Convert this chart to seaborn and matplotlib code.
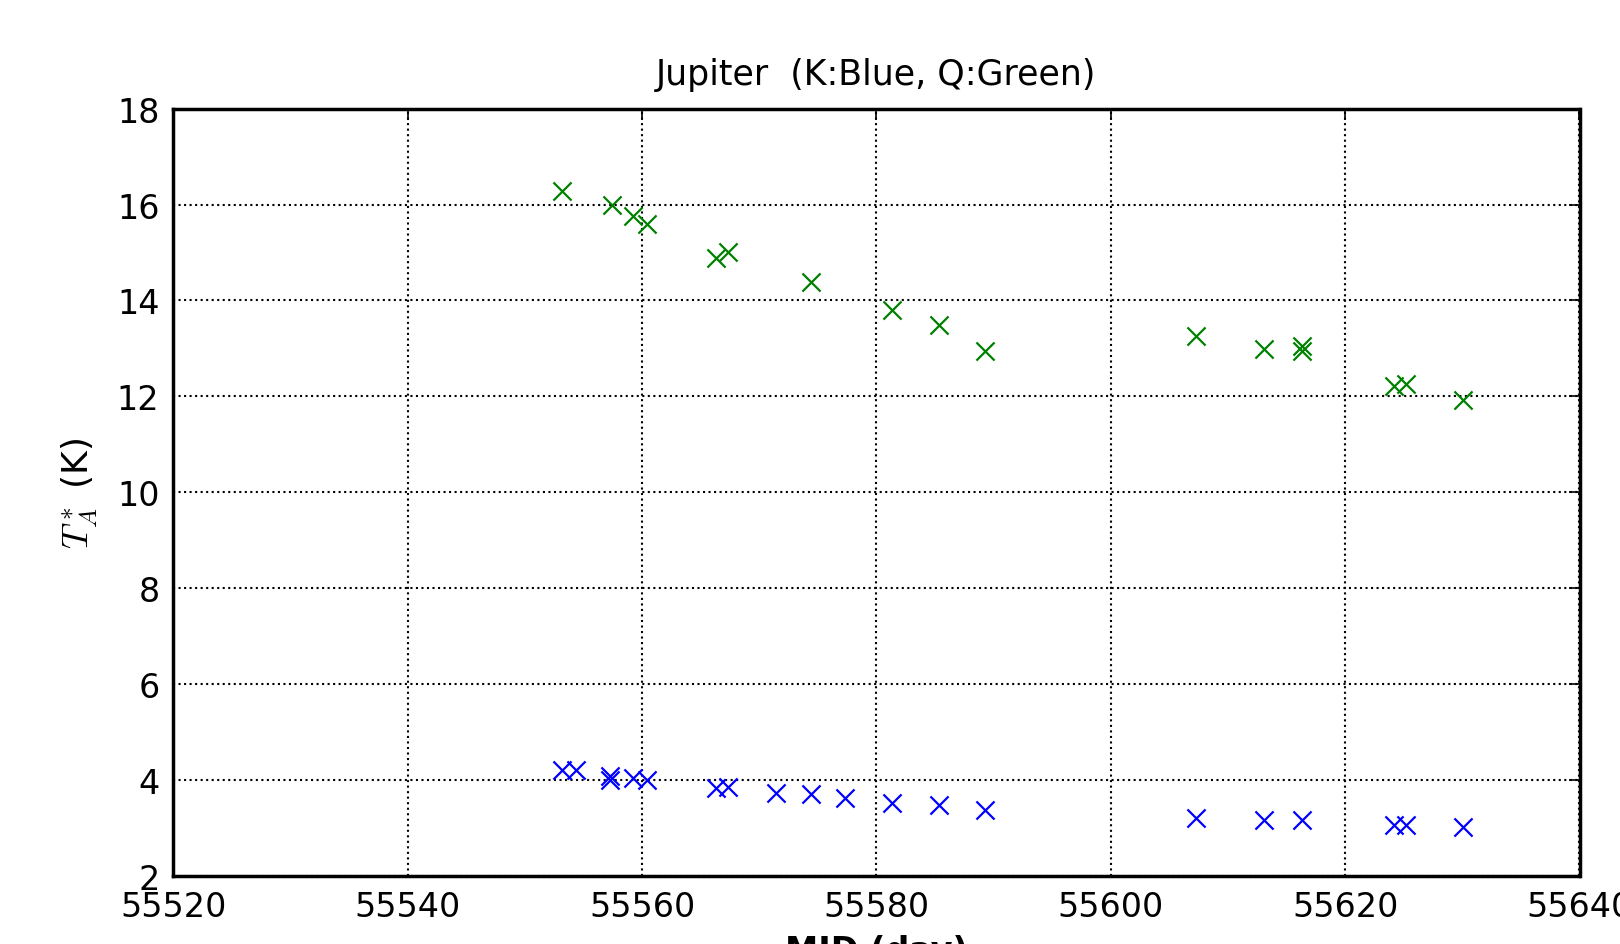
import pandas as pd
import matplotlib
matplotlib.use("Agg")
import matplotlib.pyplot as plt
import seaborn as sns

# Jupiter antenna temperature vs MJD
q_mjd = [55553.2, 55557.4, 55559.2, 55560.4, 55566.3, 55567.3, 55574.4, 55581.3,
         55585.3, 55589.3, 55607.3, 55613.1, 55616.3, 55616.3, 55624.2, 55625.2, 55630.1]
q_ta = [16.28, 15.98, 15.76, 15.59, 14.88, 15.01, 14.38, 13.80,
        13.48, 12.94, 13.26, 12.98, 13.04, 12.95, 12.21, 12.25, 11.93]

k_mjd = [55553.2, 55554.4, 55557.3, 55557.3, 55559.2, 55560.4, 55566.3, 55567.3,
         55571.4, 55574.4, 55577.3, 55581.3, 55585.3, 55589.3, 55607.3, 55613.1,
         55616.3, 55624.2, 55625.2, 55630.1]
k_ta = [4.20, 4.20, 4.09, 4.00, 4.05, 4.00, 3.83, 3.85,
        3.74, 3.70, 3.62, 3.53, 3.49, 3.38, 3.21, 3.16,
        3.16, 3.06, 3.06, 3.03]

df_k = pd.DataFrame({"mjd": k_mjd, "ta": k_ta})
df_q = pd.DataFrame({"mjd": q_mjd, "ta": q_ta})

sns.set_style("white")
plt.rcParams["font.family"] = ["DejaVu Sans"]
plt.rcParams["mathtext.fontset"] = "cm"
plt.rcParams["text.color"] = "black"
plt.rcParams["axes.labelcolor"] = "black"
plt.rcParams["xtick.color"] = "black"
plt.rcParams["ytick.color"] = "black"

fig = plt.figure(figsize=(16.2, 9.45), dpi=100)
ax = fig.add_axes([0.107, 0.072, 0.868, 0.812])

sns.scatterplot(data=df_k, x="mjd", y="ta", marker="x", color="blue",
                s=170, linewidth=1.6, ax=ax, zorder=3)
sns.scatterplot(data=df_q, x="mjd", y="ta", marker="x", color="green",
                s=170, linewidth=1.6, ax=ax, zorder=3)

ax.set_xlim(55520, 55640)
ax.set_ylim(2, 18)
ax.set_xticks(range(55520, 55641, 20))
ax.set_yticks(range(2, 19, 2))
ax.grid(True, color="black", linestyle=":", linewidth=1.5)
for sp in ax.spines.values():
    sp.set_visible(True)
    sp.set_color("black")
    sp.set_linewidth(2.5)
ax.tick_params(direction="in", length=8, width=1.2, labelsize=24,
               top=True, right=True, pad=10)
ax.xaxis.get_major_formatter().set_useOffset(False)

ax.set_title("Jupiter  (K:Blue, Q:Green)", fontsize=25, pad=18, color="black")
ax.set_xlabel("MJD (day)", fontsize=24, fontweight="bold", labelpad=8)
ax.set_ylabel(r"$T_A^*$ (K)", fontsize=26, labelpad=12)

fig.savefig("out.png", dpi=100)
